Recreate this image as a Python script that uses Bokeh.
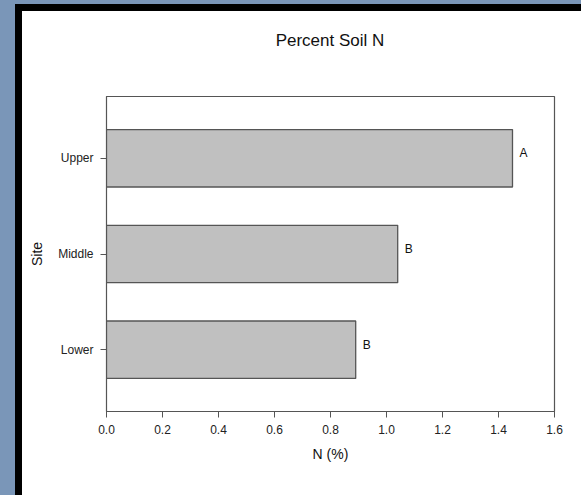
from bokeh.plotting import figure
from bokeh.models import Range1d, FixedTicker, Div, ColumnDataSource
from bokeh.layouts import row, column
from bokeh.core.properties import value
from bokeh.embed import file_html
from bokeh.resources import INLINE

# Soil nitrogen by site, with significance letters
sites = ["Lower", "Middle", "Upper"]
n_percent = [0.89, 1.04, 1.45]
letters = ["B", "B", "A"]
x_ticks = [0.0, 0.2, 0.4, 0.6, 0.8, 1.0, 1.2, 1.4, 1.6]
chart_title = "Percent Soil N"

FONT = "Liberation Sans"
positions = list(range(len(sites)))

src = ColumnDataSource(dict(y=positions, n=n_percent, letter=letters))

W = 559
TITLE_H = 60
LEFT, RIGHT, TOP, BOTTOM = 84, 27, 25, 84

p = figure(width=W, height=484 - TITLE_H, output_backend="svg", toolbar_location=None,
           x_range=Range1d(0, 1.6), y_range=Range1d(-0.645, 2.645),
           min_border_left=LEFT, min_border_right=RIGHT, min_border_top=TOP,
           min_border_bottom=BOTTOM)
p.margin = 0
p.background_fill_color = "white"
p.border_fill_color = "white"
p.outline_line_color = "#555555"
p.outline_line_width = 1.2
p.grid.visible = False

p.hbar(y="y", right="n", left=0, height=0.6, source=src,
       fill_color="#c0c0c0", line_color="#555555", line_width=1.3)

p.text(x="n", y="y", text="letter", source=src, x_offset=7, y_offset=-5,
       text_font=value(FONT), text_font_size="12px", text_color="#111111",
       text_baseline="middle", text_align="left")

for ax in (p.xaxis[0], p.yaxis[0]):
    ax.axis_line_color = "#555555"
    ax.major_tick_line_color = "#555555"
    ax.minor_tick_line_color = None
    ax.major_tick_in = 0
    ax.major_tick_out = 6
    ax.major_label_text_font = FONT
    ax.major_label_text_font_size = "12px"
    ax.major_label_text_color = "#222222"
    ax.axis_label_text_font = FONT
    ax.axis_label_text_font_size = "14px"
    ax.axis_label_text_font_style = "normal"
    ax.axis_label_text_color = "#111111"

p.xaxis.ticker = FixedTicker(ticks=x_ticks)
p.xaxis.major_label_overrides = {t: f"{t:.1f}" for t in x_ticks}
p.xaxis.axis_label = "N (%)"
p.xaxis.major_label_standoff = 7
p.xaxis.axis_label_standoff = 9

p.yaxis.ticker = FixedTicker(ticks=positions)
p.yaxis.major_label_overrides = {i: s for i, s in zip(positions, sites)}
p.yaxis.axis_label = "Site"
p.yaxis.major_label_standoff = 7
p.yaxis.axis_label_standoff = 10

# Title centred over the plotting frame
title = Div(text=chart_title, width=W - LEFT - RIGHT, height=TITLE_H,
            margin=(0, RIGHT, 0, LEFT),
            styles={"font-family": FONT, "font-size": "17px", "color": "#111111",
                    "text-align": "center", "line-height": f"{TITLE_H}px",
                    "background-color": "white"})

# Slide frame around the chart
BLUE = "#7a96b8"
def strip(w, h, color):
    return Div(width=w, height=h, margin=0, text="",
               styles={"background-color": color, "overflow": "hidden"})

page = column(
    strip(581, 4, BLUE),
    row(strip(15, 491, BLUE),
        column(strip(566, 7, "black"),
               row(strip(7, 484, "black"),
                   column(title, p, spacing=0),
                   spacing=0),
               spacing=0),
        spacing=0),
    spacing=0)

open("out.html", "w").write(file_html(page, INLINE))
